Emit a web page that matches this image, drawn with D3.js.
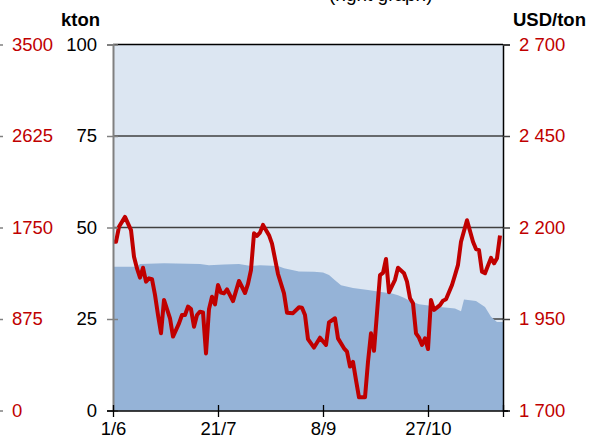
<!DOCTYPE html>
<html>
<head>
<meta charset="utf-8">
<script src="https://cdn.jsdelivr.net/npm/d3@7"></script>
<style>
body { margin: 0; background: #fff; }
svg text { font-family: Arial, "Liberation Sans", sans-serif; }
</style>
</head>
<body>
<svg id="chart" width="589" height="443"></svg>
<script>
// trading days counted from 1/6
var tickDays = [0, 35, 70, 105, 130];
var tickLabels = ["1/6", "21/7", "8/9", "27/10", ""];

var ktonTicks = [0, 25, 50, 75, 100];
var usdTicks = [1700, 1950, 2200, 2450, 2700];
var outerTicks = [0, 875, 1750, 2625, 3500];

// stocks, kton (area)
var stockDays = [0, 8, 9, 17, 29, 32, 37, 42, 46, 49, 55, 57, 62, 67, 70, 72, 74, 76, 80, 85,
    90, 93, 95, 97, 99, 102, 109, 114, 116, 117, 121, 124, 126, 128, 130];
var stockKton = [39.3, 39.3, 40.0, 40.2, 40.0, 39.7, 39.9, 40.0, 39.5, 39.7, 39.5, 38.9, 38.0, 37.9, 37.7, 37.0, 35.6, 34.2, 33.5, 32.9,
    32.3, 32.0, 31.5, 30.8, 29.9, 29.0, 28.3, 27.9, 27.1, 30.3, 29.9, 28.3, 25.6, 24.2, 24.2];

// price, USD/ton (red line, right axis)
var priceDays = [0, 1, 2, 4, 6, 7, 8, 9, 10, 11, 12, 13, 14, 15, 16, 17, 19, 20, 22, 23,
    24, 25, 26, 27, 28, 29, 30, 31, 32, 33, 34, 35, 36, 37, 38, 40, 42, 44, 45, 46,
    47, 48, 49, 50, 52, 53, 55, 57, 58, 60, 62, 63, 64, 65, 67, 69, 71, 72, 74, 75,
    77, 78, 79, 80, 81, 82, 84, 85, 86, 87, 89, 90, 91, 92, 94, 95, 97, 98, 99, 100,
    101, 102, 103, 104, 105, 106, 107, 109, 110, 111, 113, 114, 115, 116, 118, 120, 121, 122, 123, 124,
    126, 127, 128, 129];
var priceUsd = [2161, 2161, 2202, 2229, 2193, 2120, 2088, 2063, 2090, 2052, 2061, 2059, 2016, 1961, 1911, 2002, 1952, 1902, 1938, 1961,
    1961, 1984, 1977, 1929, 1961, 1970, 1968, 1856, 1977, 2011, 1990, 2043, 2022, 2020, 2031, 1999, 2054, 2021, 2046, 2084,
    2184, 2177, 2186, 2207, 2179, 2156, 2073, 2020, 1967, 1966, 1982, 1981, 1961, 1895, 1872, 1899, 1879, 1941, 1952, 1897,
    1870, 1861, 1820, 1833, 1783, 1736, 1736, 1833, 1911, 1863, 2070, 2076, 2114, 2023, 2057, 2090, 2075, 2052, 2007, 1993,
    1911, 1899, 1879, 1897, 1868, 2002, 1975, 1988, 2000, 2004, 2043, 2070, 2098, 2161, 2220, 2161, 2141, 2138, 2079, 2075,
    2117, 2102, 2116, 2178];

var svg = d3.select("#chart");
var plotLeft = 113, plotRight = 503, plotTop = 44.5, plotBottom = 410.5;

var x = d3.scaleLinear().domain([0, 130]).range([plotLeft, plotRight]);
var yKton = d3.scaleLinear().domain([0, 100]).range([plotBottom, plotTop]);
var yUsd = d3.scaleLinear().domain([1700, 2700]).range([plotBottom, plotTop]);
var yOuter = d3.scaleLinear().domain([0, 3500]).range([plotBottom, plotTop]);

var red = "#c00000";

// plot background
svg.append("rect")
    .attr("x", plotLeft).attr("y", plotTop)
    .attr("width", plotRight - plotLeft).attr("height", plotBottom - plotTop)
    .attr("fill", "#dce6f2");

// gridlines (the area covers the lower ones)
svg.selectAll(".grid")
    .data(ktonTicks.slice(1))
    .enter()
    .append("line")
    .attr("class", "grid")
    .attr("x1", plotLeft).attr("x2", plotRight)
    .attr("y1", function (d) { return yKton(d); })
    .attr("y2", function (d) { return yKton(d); })
    .attr("stroke", function (d) { return d == 100 ? "#000" : "#404040"; })
    .attr("stroke-width", 1.4);

var stock = stockDays.map(function (d, i) { return [d, stockKton[i]]; });
svg.append("path")
    .datum(stock)
    .attr("fill", "#95b3d7")
    .attr("d", d3.area()
        .x(function (d) { return x(d[0]); })
        .y0(yKton(0))
        .y1(function (d) { return yKton(d[1]); }));

var price = priceDays.map(function (d, i) { return [d, priceUsd[i]]; });
svg.append("path")
    .datum(price)
    .attr("fill", "none")
    .attr("stroke", red)
    .attr("stroke-width", 4)
    .attr("stroke-linejoin", "round")
    .attr("d", d3.line()
        .x(function (d) { return x(d[0]); })
        .y(function (d) { return yUsd(d[1]); }));

// left axis, kton
var gLeft = svg.append("g")
    .attr("transform", "translate(" + plotLeft + ",0)")
    .call(d3.axisLeft(yKton).tickValues(ktonTicks).tickSize(6).tickPadding(10));
gLeft.select(".domain").attr("stroke", "#808080").attr("stroke-width", 2);
gLeft.selectAll(".tick line").attr("x1", 5).attr("stroke", "#808080").attr("stroke-width", 1.5);
gLeft.selectAll(".tick text").attr("font-size", "18.5px").attr("fill", "#000");

// right axis, USD/ton
var spaced = function (d) { return d3.format(",")(d).replace(",", " "); };
var gRight = svg.append("g")
    .attr("transform", "translate(" + plotRight + ",0)")
    .call(d3.axisRight(yUsd).tickValues(usdTicks).tickSize(7).tickPadding(9).tickFormat(spaced));
gRight.select(".domain").attr("stroke", "#000").attr("stroke-width", 1.5);
gRight.selectAll(".tick line").attr("stroke", "#404040").attr("stroke-width", 1.5);
gRight.selectAll(".tick text").attr("font-size", "18.5px").attr("fill", red);

// outer red axis on the far left
var gOuter = svg.append("g")
    .attr("transform", "translate(-4,0)")
    .call(d3.axisRight(yOuter).tickValues(outerTicks).tickSize(7).tickPadding(9).tickFormat(d3.format("d")));
gOuter.select(".domain").remove();
gOuter.selectAll(".tick line").attr("stroke", "#808080").attr("stroke-width", 1.5);
gOuter.selectAll(".tick text").attr("font-size", "18.5px").attr("fill", red);

// bottom axis
var gBottom = svg.append("g")
    .attr("transform", "translate(0," + (plotBottom + 0.5) + ")")
    .call(d3.axisBottom(x).tickValues(tickDays).tickSize(6).tickPadding(5)
        .tickFormat(function (d, i) { return tickLabels[i]; }));
gBottom.select(".domain").attr("d", "M" + (plotLeft - 6) + ",0H" + (plotRight + 5)).attr("stroke", "#000").attr("stroke-width", 1.5);
gBottom.selectAll(".tick line").attr("y1", -6).attr("stroke", "#000").attr("stroke-width", 1.3);
gBottom.selectAll(".tick text").attr("font-size", "18.5px").attr("fill", "#000");

// unit labels
svg.append("text").attr("x", 61).attr("y", 26)
    .attr("font-size", "18.5px").attr("font-weight", "bold").text("kton");
svg.append("text").attr("x", 513).attr("y", 26)
    .attr("font-size", "18.5px").attr("font-weight", "bold").text("USD/ton");

// title line, cut off by the top edge
svg.append("text").attr("x", 329).attr("y", 0.5)
    .attr("font-size", "19px").text("(right graph)");
</script>
</body>
</html>
